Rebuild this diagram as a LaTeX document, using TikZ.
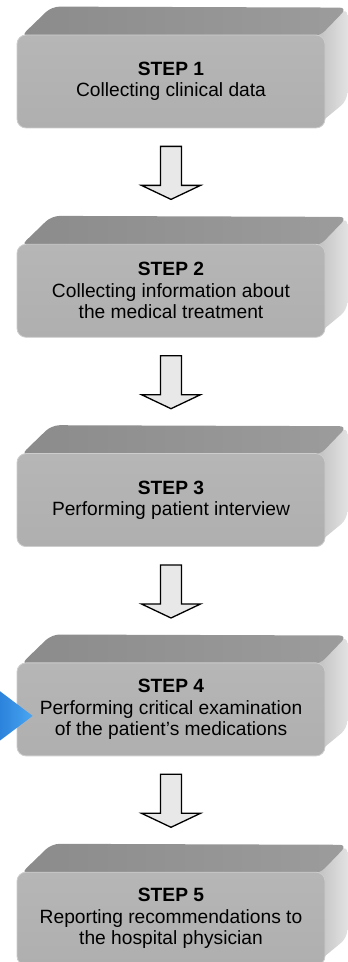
\documentclass[tikz,border=0pt]{standalone}
\usepackage{fontspec}
\setmainfont{Liberation Sans}
\usepackage{tikz}
\usetikzlibrary{calc, positioning, backgrounds}
\definecolor{frontgray}{HTML}{B6B6B6}
\definecolor{frontlow}{HTML}{AFAFAF}
\definecolor{edgegray}{HTML}{CDCDCD}
\definecolor{topgray}{HTML}{8B8B8B}
\definecolor{toplight}{HTML}{9C9C9C}
\definecolor{sidedark}{HTML}{BDBDBD}
\definecolor{sidelight}{HTML}{E2E2E2}
\definecolor{arrowfill}{HTML}{E8E8E8}
\definecolor{bluedark}{HTML}{1F74D2}
\definecolor{bluelight}{HTML}{4AA6F2}
\tikzstyle{stepbox} = [rectangle, rounded corners=9pt, minimum width=308pt, minimum height=93pt, inner sep=0pt,
  top color=frontgray, bottom color=frontlow, draw=edgegray, line width=0.8pt,
  align=center, font=\fontsize{19.2}{21.5}\selectfont]
\tikzstyle{topface} = [left color=topgray, right color=toplight, rounded corners=8pt]
\tikzstyle{sideface} = [left color=sidedark, right color=sidelight, rounded corners=8pt]
\tikzstyle{blockarrow} = [draw=black, fill=arrowfill, line width=1.3pt, line join=miter]

\begin{document}
\begin{tikzpicture}[x=1pt, y=1pt]
            \useasboundingbox (0,0) rectangle (348,962);

            \node[stepbox] (s1) at (171, 880.5) {\textbf{STEP 1}\\Collecting clinical data};
            \node[stepbox, below=115.5pt of s1] (s2) {\textbf{STEP 2}\\Collecting information about\\the medical treatment};
            \node[stepbox, below=115.5pt of s2] (s3) {\textbf{STEP 3}\\Performing patient interview};
            \node[stepbox, below=115.5pt of s3] (s4) {\textbf{STEP 4}\\Performing critical examination\\of the patient's medications};
            \node[stepbox, below=115.5pt of s4] (s5) {\textbf{STEP 5}\\Reporting recommendations to\\the hospital physician};

            % depth of the blocks
            \begin{scope}[on background layer]
              \foreach \s in {s1, s2, s3, s4, s5} {
                \shade[sideface] ($(\s.north east)+(-12,0)$) -- ($(\s.north east)+(22,27)$) -- ($(\s.south east)+(22,28)$) -- ($(\s.south east)+(-12,0)$) -- cycle;
                \shade[topface] ($(\s.north west)+(4,-2)$) -- ($(\s.north west)+(35,28)$) -- ($(\s.north east)+(22,27)$) -- ($(\s.north east)+(-6,-2)$) -- cycle;
              }
            \end{scope}

            \foreach \a/\b in {s1/s2, s2/s3, s3/s4, s4/s5} {
              \draw[blockarrow] ($(\a.south)+(-10.5,-18)$) -- ($(\a.south)+(10.5,-18)$) -- ++(0,-39) -- ++(19,0)
                -- ($(\b.north)+(0,44.5)$) -- ($(\a.south)+(-29.5,-57)$) -- ++(19,0) -- cycle;
            }

            \begin{scope}
              \clip (0,0) rectangle (348,962);
              \shade[left color=bluedark, right color=bluelight] ($(s4.west)+(-30,28.3)$) -- ($(s4.west)+(16,-6.5)$) -- ($(s4.west)+(-30,-41.3)$) -- cycle;
            \end{scope}
\end{tikzpicture}
\end{document}
